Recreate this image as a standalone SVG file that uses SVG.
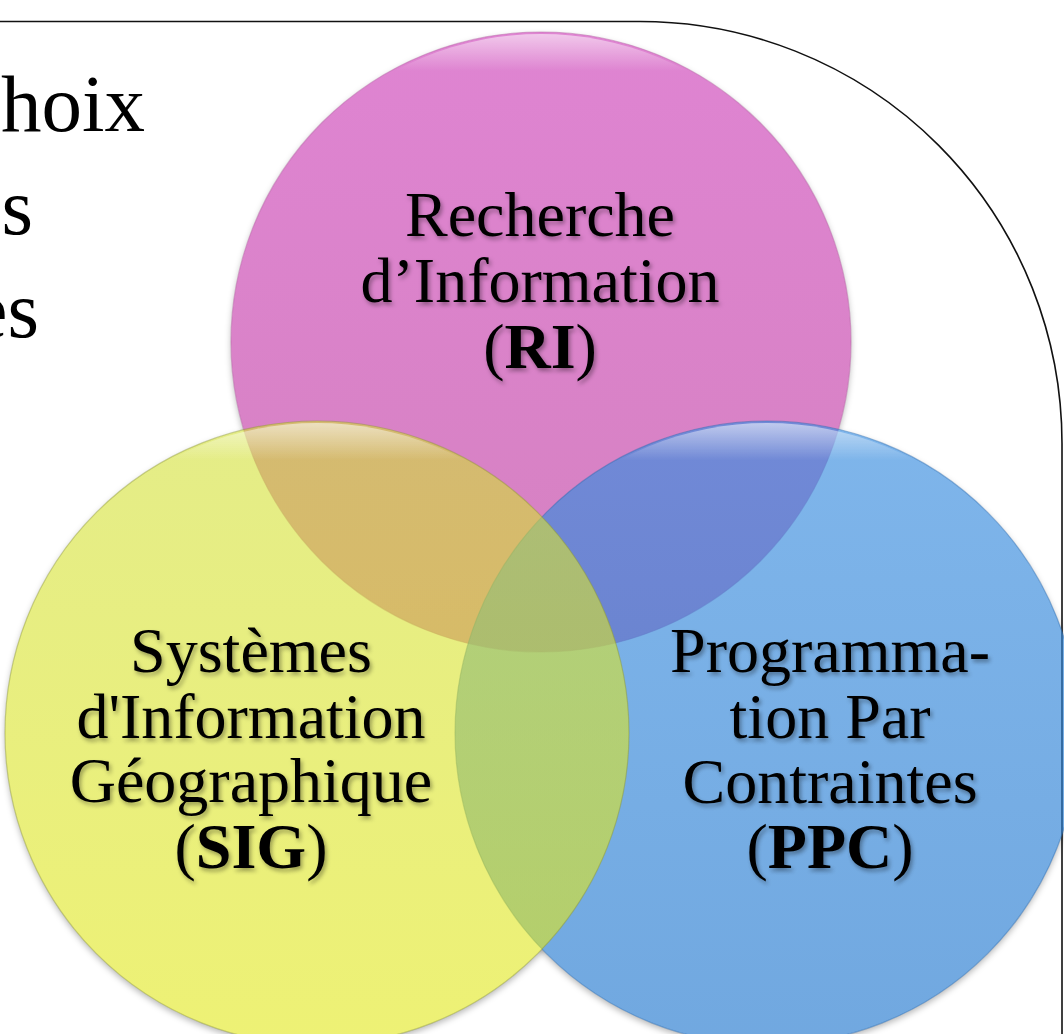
<svg xmlns="http://www.w3.org/2000/svg" width="1064" height="1034" viewBox="0 0 1064 1034">
<style>
.lbl{font-family:"Liberation Serif","Times New Roman",serif;font-size:64px;fill:#000;text-anchor:middle;filter:url(#tsh)}
.side{font-family:"Liberation Serif","Times New Roman",serif;font-size:81px;fill:#000;text-anchor:end}
.b{font-weight:bold}
.frame{fill:none;stroke:#111;stroke-width:1.6}
.shd{fill:#000;fill-opacity:0.28;filter:url(#blur)}
</style>
<defs>
<filter id="tsh" x="-10%" y="-20%" width="120%" height="150%">
<feDropShadow dx="2" dy="3" stdDeviation="2" flood-color="#000" flood-opacity="0.35"/>
</filter>
<filter id="blur" x="-10%" y="-10%" width="120%" height="120%">
<feGaussianBlur stdDeviation="3"/>
</filter>
<mask id="outside" maskUnits="userSpaceOnUse" x="0" y="0" width="1064" height="1034">
<rect width="1064" height="1034" fill="#fff"/>
<circle cx="541" cy="342" r="310" fill="#000"/>
<circle cx="767" cy="733" r="312" fill="#000"/>
<circle cx="317" cy="733" r="312" fill="#000"/>
</mask>
<linearGradient id="gp" x1="0" y1="0" x2="0" y2="1">
<stop offset="0" stop-color="#DF84D2"/>
<stop offset="1" stop-color="#D581C0"/>
</linearGradient>
<linearGradient id="gb" x1="0" y1="0" x2="0" y2="1">
<stop offset="0" stop-color="#3A8EE0"/>
<stop offset="1" stop-color="#2479CF"/>
</linearGradient>
<linearGradient id="gy" x1="0" y1="0" x2="0" y2="1">
<stop offset="0" stop-color="#D2E038"/>
<stop offset="1" stop-color="#E2E818"/>
</linearGradient>
<linearGradient id="hl" x1="0" y1="0" x2="0" y2="1">
<stop offset="0" stop-color="#fff" stop-opacity="0.55"/>
<stop offset="0.06" stop-color="#fff" stop-opacity="0"/>
</linearGradient>
</defs>
<rect width="1064" height="1034" fill="#fff"/>
<path class="frame" d="M0,21.5 H640 A422,422 0 0 1 1062,443.5 V1034"/>
<g id="side-text">
<text class="side" x="145" y="131">hoix</text>
<text class="side" x="33" y="234">s</text>
<text class="side" x="39" y="337">es</text>
</g>
<g id="shadows" mask="url(#outside)">
<circle class="shd" cx="541" cy="345" r="310"/>
<circle class="shd" cx="767" cy="736" r="312"/>
<circle class="shd" cx="317" cy="736" r="312"/>
</g>
<g id="connectors"/>
<g id="ri">
<circle cx="541" cy="342" r="310" fill="url(#gp)" stroke="#B86AA8" stroke-opacity="0.5" stroke-width="1.2"/>
<circle cx="541" cy="342" r="308" fill="url(#hl)"/>
<text class="lbl" x="540" y="236">Recherche</text>
<text class="lbl" x="540" y="302">d’Information</text>
<text class="lbl" x="540" y="368">(<tspan class="b">RI</tspan>)</text>
</g>
<g id="ppc">
<circle cx="767" cy="733" r="312" fill="url(#gb)" fill-opacity="0.65" stroke="#2A6AB0" stroke-opacity="0.45" stroke-width="1.2"/>
<circle cx="767" cy="733" r="310" fill="url(#hl)"/>
<text class="lbl" x="830" y="672">Programma-</text>
<text class="lbl" x="830" y="738">tion Par</text>
<text class="lbl" x="830" y="803">Contraintes</text>
<text class="lbl" x="830" y="868">(<tspan class="b">PPC</tspan>)</text>
</g>
<g id="sig">
<circle cx="317" cy="733" r="312" fill="url(#gy)" fill-opacity="0.6" stroke="#8E9A30" stroke-opacity="0.45" stroke-width="1.2"/>
<circle cx="317" cy="733" r="310" fill="url(#hl)"/>
<text class="lbl" x="251" y="672">Systèmes</text>
<text class="lbl" x="251" y="738">d'Information</text>
<text class="lbl" x="251" y="802">Géographique</text>
<text class="lbl" x="251" y="868">(<tspan class="b">SIG</tspan>)</text>
</g>
</svg>
